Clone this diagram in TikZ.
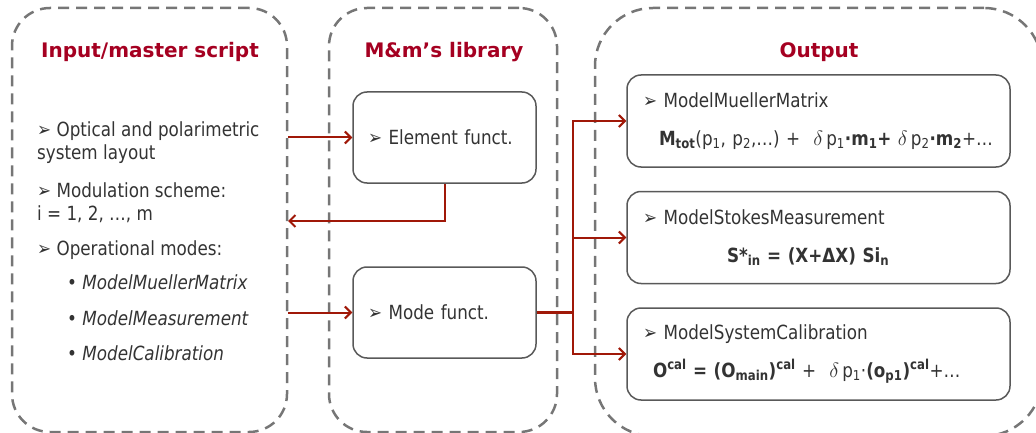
\documentclass[tikz,border=0pt]{standalone}
\usepackage{fontspec}
\setmainfont{DejaVu Sans}[FakeStretch=0.86]
\newfontfamily\headfont{DejaVu Sans}
\usetikzlibrary{arrows.meta}
\definecolor{titlered}{RGB}{165,0,33}
\definecolor{arrowred}{RGB}{160,24,8}
\definecolor{txtgray}{RGB}{51,51,51}
\definecolor{boxgray}{RGB}{89,89,89}
\definecolor{dashgray}{RGB}{118,118,118}

\begin{document}
\begin{tikzpicture}[x=1pt, y=-1pt,
    every node/.style={text=txtgray, font=\fontsize{19.5}{23}\selectfont},
    panel/.style={draw=dashgray, line width=2.5pt, dash pattern=on 11pt off 7pt, rectangle, rounded corners=38pt, inner sep=0pt},
    heading/.style={text=titlered, font=\headfont\bfseries\fontsize{20}{24}\selectfont, anchor=base},
    item/.style={anchor=base west, align=left, inner sep=0pt},
    funct/.style={draw=boxgray, line width=1.5pt, rounded corners=14pt, minimum width=183pt, minimum height=91pt, text width=153pt, align=left, inner sep=0pt},
    model/.style={draw=boxgray, line width=1.5pt, rounded corners=14pt, minimum width=383pt, minimum height=92pt, text width=351pt, align=left, inner sep=0pt},
    link/.style={draw=arrowred, line width=2pt, -{Straight Barb[length=6pt, width=12pt]}},
    ]
  \useasboundingbox (0,0) rectangle (1036,433);
  \clip (0,0) rectangle (1036,433);

  \node[panel, minimum width=275pt, minimum height=424pt] (input) at (149.5,220) {};
  \node[panel, minimum width=228pt, minimum height=424pt] (library) at (443,220) {};
  \node[panel, minimum width=447pt, minimum height=428pt, rounded corners=58pt] (output) at (818.5,222) {};

  \node[heading] (inputtitle) at (150,58) {Input/master script};
  \node[heading] (librarytitle) at (444,58) {M\&m’s library};
  \node[heading] (outputtitle) at (819,58) {Output};

  \node[item] (layout) at (37,160) {➢ Optical and polarimetric\\system layout};
  \node[item] (modulation) at (37,220) {➢ Modulation scheme:\\i = 1, 2, …, m};
  \node[item] (modes) at (37,255) {➢ Operational modes:};
  \node[item] (muellermode) at (67,289) {• \textit{ModelMuellerMatrix}};
  \node[item] (measmode) at (67,325) {• \textit{ModelMeasurement}};
  \node[item] (calmode) at (67,360) {• \textit{ModelCalibration}};

  \node[funct] (element) at (444.5,137.5) {➢ Element funct.};
  \node[funct] (mode) at (444.5,312.5) {➢ Mode funct.};

  \node[model] (mueller) at (818.5,121) {➢ ModelMuellerMatrix\\[15pt]\hspace*{16pt}\textbf{M}\textsubscript{\textbf{tot}}(p\textsubscript{1}, p\textsubscript{2},…) +\ \ $\delta$\,p\textsubscript{1}\textbf{·m\textsubscript{1}+} $\delta$\,p\textsubscript{2}\textbf{·m\textsubscript{2}}+…};
  \node[model] (stokes) at (818.5,237.5) {➢ ModelStokesMeasurement\\[15pt]\hspace*{84pt}\textbf{S*\textsubscript{in} = (X+ΔX) Si\textsubscript{n}}};
  \node[model] (calib) at (818.5,354) {➢ ModelSystemCalibration\\[15pt]\hspace*{10pt}\textbf{O\textsuperscript{cal} = (O\textsubscript{main})\textsuperscript{cal}} +\ \ $\delta$\,p\textsubscript{1}·\textbf{(o\textsubscript{p1})\textsuperscript{cal}}+…};

  \coordinate (ret) at (288,221);
  \coordinate (split) at (573,312.5);
  \draw[link] (input.east |- element.west) -- (element.west);
  \draw[link] (element.south) |- (ret);
  \draw[link] (input.east |- mode.west) -- (mode.west);
  \draw[draw=arrowred, line width=3pt] (mode.east) -- (split);
  \draw[link] (split) |- (mueller.west);
  \draw[link] (split) |- (stokes.west);
  \draw[link] (split) |- (calib.west);
\end{tikzpicture}
\end{document}
